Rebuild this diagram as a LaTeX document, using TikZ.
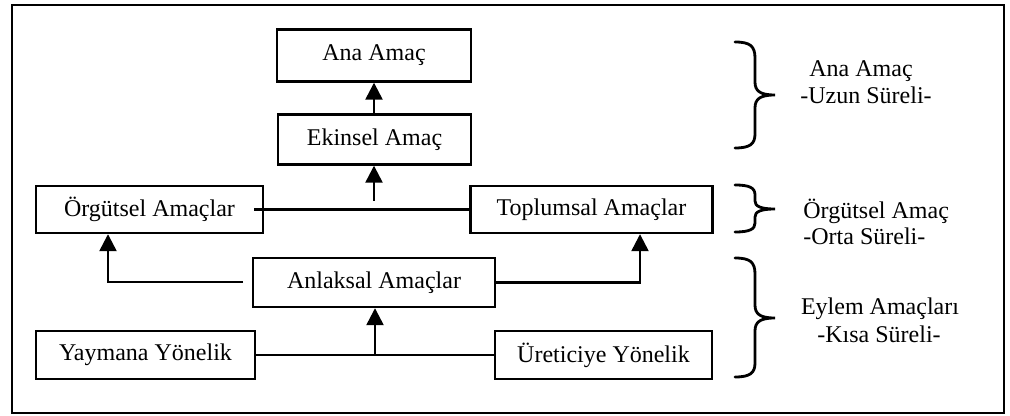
\documentclass[tikz,border=0pt]{standalone}
\usepackage{fontspec}
\setmainfont{Liberation Serif}
\usetikzlibrary{arrows.meta}
\tikzset{
  box/.style={draw, line width=1.2pt, inner sep=0pt, font=\fontsize{12}{14}\selectfont},
  conn/.style={line width=1.2pt},
  arr/.style={line width=1.2pt, -{Triangle[width=8.5pt,length=8.5pt]}},
  brace/.style={line width=1.4pt, line cap=round},
  lbl/.style={font=\fontsize{12}{14}\selectfont, inner sep=0pt}
}
\begin{document}
\begin{tikzpicture}[x=0.5pt,y=-0.5pt]
\useasboundingbox (0,0) rectangle (1010,416);
\draw[line width=1.2pt] (12,5) rectangle (1004,413);
% boxes
\node[box, minimum width=97pt, minimum height=26pt] (ana) at (374,55.5) {Ana Amaç};
\node[box, minimum width=96.5pt, minimum height=25pt] (eki) at (374.5,139.5) {Ekinsel Amaç};
\node[box, minimum width=113.5pt, minimum height=23.5pt] (org) at (149.5,209.5) {Örgütsel Amaçlar};
\node[box, minimum width=121pt, minimum height=23.5pt] (top) at (591.5,209.5) {Toplumsal Amaçlar};
\node[box, minimum width=121pt, minimum height=24.5pt] (anl) at (374,282.5) {Anlaksal Amaçlar};
\node[box, minimum width=109.5pt, minimum height=24pt] (yay) at (145.5,355) {Yaymana Yönelik};
\node[box, minimum width=108.5pt, minimum height=24pt] (ure) at (603.5,355) {Üreticiye Yönelik};
% connectors
\coordinate (c1) at (374,201);
\coordinate (c2) at (243,282);
\coordinate (c3) at (375,354);
\draw[arr] (eki.north -| c1) -- (ana.south -| c1);
\draw[arr] (c1) -- (eki.south -| c1);
\draw[conn] ([xshift=-5pt]org.east) -- (top.west);
\draw[arr] (c2) -| ([xshift=-20.75pt]org.south);
\draw[arr] (anl.east) -| ([xshift=24.25pt]top.south);
\draw[conn] (yay.east) -- (ure.west);
\draw[arr] (c3) -- (anl.south -| c3);
% braces
\draw[brace] (735,42) .. controls (750,42) and (755,46) .. (755,58) -- (755,82)
  .. controls (755,91) and (760,95) .. (775,95)
  .. controls (760,95) and (755,99) .. (755,108) -- (755,134)
  .. controls (755,144) and (750,148) .. (735,148);
\draw[brace] (735,185) .. controls (750,185) and (755,188) .. (755,195) -- (755,201)
  .. controls (755,206) and (760,209) .. (775,209)
  .. controls (760,209) and (755,212) .. (755,217) -- (755,223)
  .. controls (755,229) and (750,232) .. (735,232);
\draw[brace] (735,258) .. controls (750,258) and (755,262) .. (755,274) -- (755,305)
  .. controls (755,314) and (760,318) .. (775,318)
  .. controls (760,318) and (755,322) .. (755,331) -- (755,363)
  .. controls (755,373) and (750,377) .. (735,377);
% labels
\node[lbl] (l1a) at (861,71) {Ana Amaç};
\node[lbl] (l1b) at (866,95) {-Uzun Süreli-};
\node[lbl, anchor=west] (l2a) at (803,211) {Örgütsel Amaç};
\node[lbl, anchor=west] (l2b) at (803,236) {-Orta Süreli-};
\node[lbl] (l3a) at (880,309) {Eylem Amaçları};
\node[lbl] (l3b) at (879,334) {-Kısa Süreli-};
\end{tikzpicture}
\end{document}
